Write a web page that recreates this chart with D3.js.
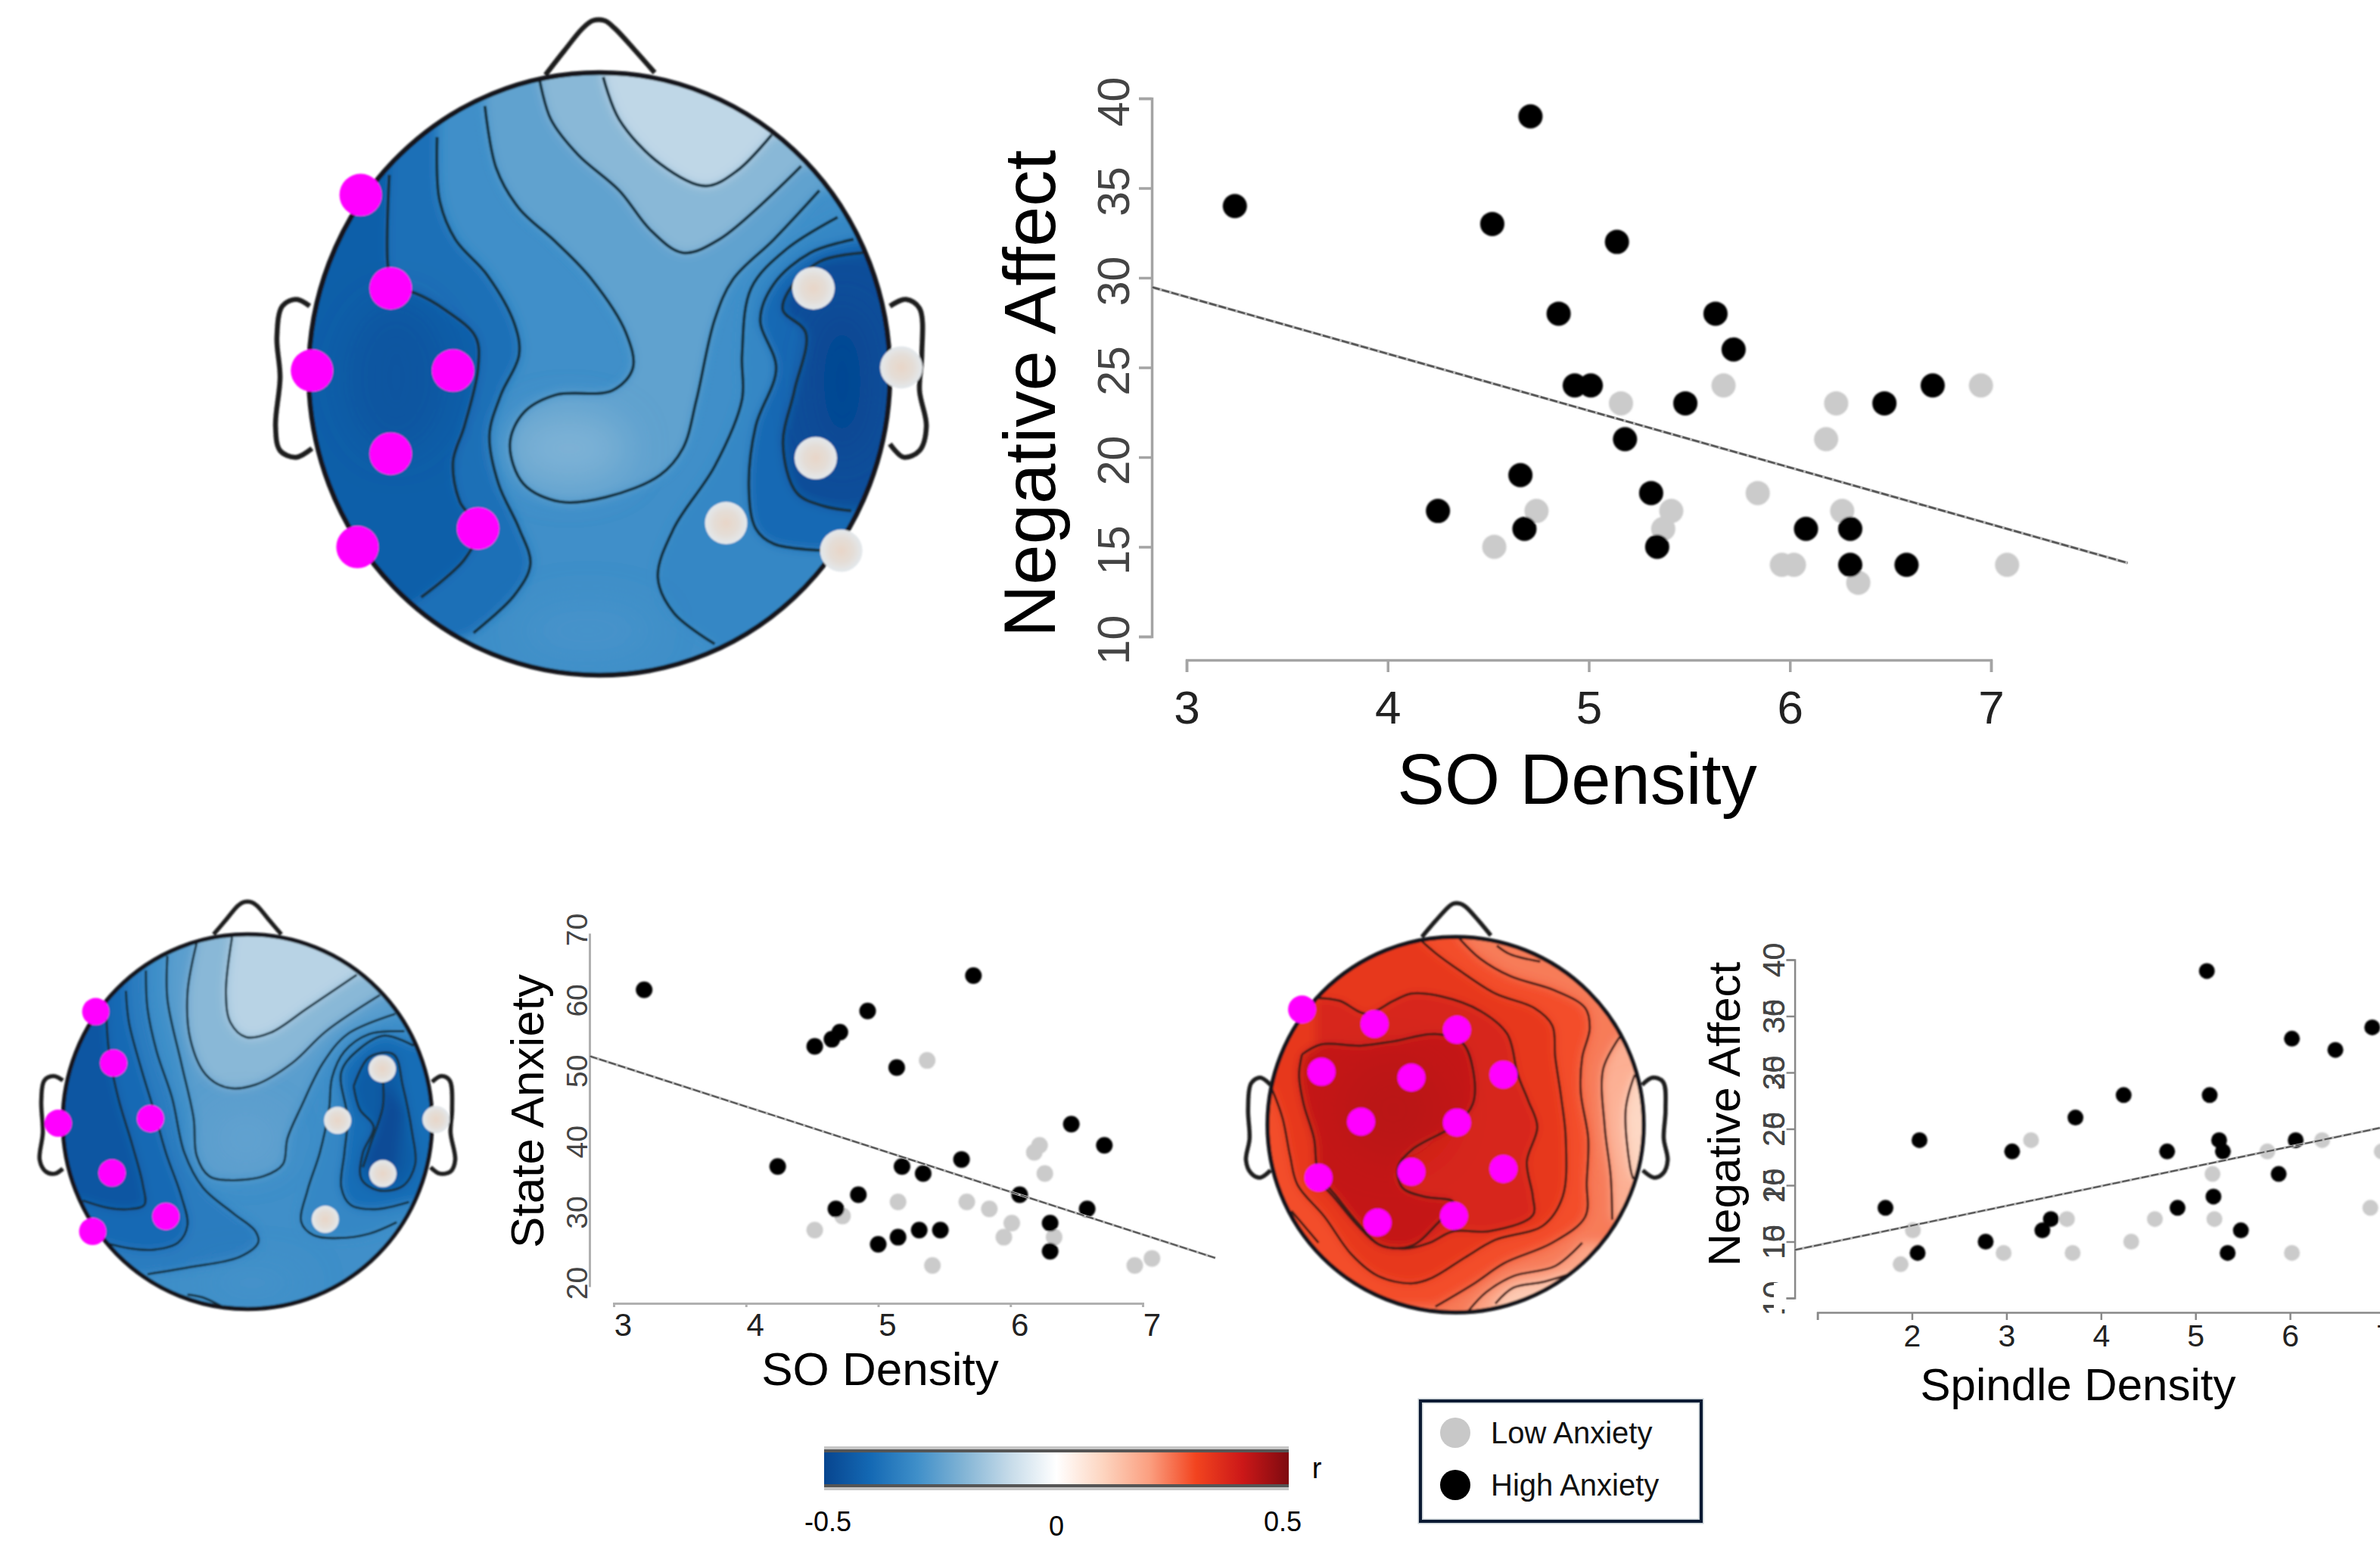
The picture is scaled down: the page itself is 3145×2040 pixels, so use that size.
<!DOCTYPE html>
<html>
<head>
<meta charset="utf-8">
<script src="https://cdn.jsdelivr.net/npm/d3@7"></script>
<style>
  html, body { margin: 0; padding: 0; background: #fff; }
  svg { display: block; }
  text { font-family: "Liberation Sans", Arial, sans-serif; }
</style>
</head>
<body>
<svg id="fig" width="3145" height="2040"></svg>
<script>
// ---- scatter data, [x, y] ----
var soNegHigh = [[3.24,34],[4.71,39],[4.52,33],[5.14,32],[4.85,28],[5.63,28],[5.72,26],[4.93,24],[5.01,24],
  [5.48,23],[5.18,21],[6.47,23],[6.71,24],[4.66,19],[5.31,18],[4.25,17],[4.68,16],[5.34,15],[6.08,16],
  [6.30,16],[6.30,14],[6.58,14]];
var soNegLow = [[5.67,24],[5.16,23],[6.23,23],[6.95,24],[6.18,21],[5.84,18],[4.74,17],[5.41,17],[6.26,17],
  [5.37,16],[4.53,15],[5.96,14],[6.02,14],[7.08,14],[6.34,13]];
var soNegFit = [[2.83,29.47],[7.68,14.1]];

var soStateHigh = [[3.23,62],[5.72,64],[4.92,59],[4.71,56],[4.65,55],[4.52,54],[5.14,51],[6.46,43],[6.71,40],
  [5.63,38],[4.24,37],[5.18,37],[5.34,36],[4.85,33],[6.07,33],[4.68,31],[6.58,31],[6.30,29],[5.31,28],
  [5.47,28],[5.15,27],[5.00,26],[6.30,25]];
var soStateLow = [[5.37,52],[6.22,40],[6.18,39],[6.26,36],[5.15,32],[5.67,32],[5.84,31],[4.73,30],[6.01,29],
  [4.52,28],[5.95,27],[6.33,27],[5.41,23],[6.94,23],[7.07,24]];
var soStateFit = [[2.82,52.6],[7.55,24.06]];

var spNegHigh = [[5.12,39],[6.02,33],[6.48,32],[6.87,34],[4.24,28],[5.15,28],[3.73,26],[2.08,24],[3.06,23],
  [4.70,23],[5.25,24],[5.29,23],[6.06,24],[5.88,21],[5.19,19],[1.72,18],[4.81,18],[3.47,17],[3.38,16],
  [5.48,16],[2.78,15],[2.06,14],[5.34,14]];
var spNegLow = [[3.26,24],[6.34,24],[5.76,23],[5.18,21],[6.97,23],[6.85,18],[3.64,17],[4.57,17],[5.20,17],
  [2.01,16],[4.32,15],[2.97,14],[3.70,14],[6.02,14],[1.88,13]];
var spNegFit = [[0.76,14.26],[6.95,25.08]];

// tick labels
var soTicks = [3, 4, 5, 6, 7];
var spTicks = [1, 2, 3, 4, 5, 6, 7];
var negTicks = [10, 15, 20, 25, 30, 35, 40];
var stateTicks = [20, 30, 40, 50, 60, 70];
// the spindle panel has a second set of labels printed over the first
var spOverprint = {40: "40", 35: "30", 30: "25", 25: "20", 20: "15", 15: "10", 10: "10"};

// ---- colour bar ----
var rStops = [-0.5, -0.4, -0.3, -0.2, -0.1, 0, 0.1, 0.2, 0.3, 0.4, 0.5];
var rColors = ["#07458f", "#1469b4", "#3f8fc9", "#82b4d5", "#c6dbe9", "#ffffff", "#fdd5c0", "#fb9f80", "#f2441f", "#cc1818", "#7e0a10"];
var rColor = d3.scaleLinear().domain(rStops).range(rColors);

// ---- topomap A: contours in the units they were read in ----
var a_c1 = [[325,395],[322,600],[335,650],[380,660],[450,700],[515,760],[520,830],[490,960],[465,1040],[480,1130],[520,1190],[490,1260],[395,1345]];
var a_c2 = [[430,310],[435,450],[470,540],[540,620],[600,730],[610,800],[570,890],[545,980],[565,1090],[610,1190],[635,1270],[600,1340],[510,1425]];
var a_c3 = [[535,240],[560,380],[610,470],[690,545],[770,630],[845,750],[860,830],[815,880],[690,890],[620,930],[590,1000],[620,1090],[700,1130],[800,1120],[920,1070],[970,1010],[1000,900],[1040,720],[1080,630],[1170,540],[1270,430]];
var a_c4 = [[655,180],[680,270],[740,350],[830,430],[900,520],[970,570],[1050,540],[1230,375]];
var a_c5 = [[795,175],[830,270],[920,370],[1020,420],[1090,385],[1165,305]];
var a_c6 = [[1310,490],[1200,560],[1120,650],[1100,800],[1100,900],[1040,1050],[950,1190],[915,1300],[950,1380],[1040,1450]];
var a_c7 = [[1345,540],[1250,570],[1170,640],[1140,720],[1175,830],[1130,960],[1115,1100],[1130,1190],[1170,1225],[1290,1240]];
var a_c8 = [[1365,570],[1270,590],[1200,660],[1190,700],[1240,750],[1215,880],[1190,1000],[1220,1110],[1280,1140],[1340,1150]];
var a_mag = [[262,440],[328,650],[155,835],[465,835],[328,1022],[520,1190],[255,1232]];
var a_gray = [[1257,650],[1450,828],[1262,1032],[1065,1178],[1318,1240]];
var a_nose = [[668,170],[710,115],[750,65],[772,48],[798,48],[820,65],[865,115],[908,165]];
var a_earL = [[150,690],[120,675],[90,690],[78,760],[85,850],[75,960],[85,1015],[120,1030],[155,1010]];
var a_earR = [[1425,690],[1460,675],[1490,695],[1495,800],[1490,880],[1505,960],[1490,1015],[1455,1030],[1425,1000]];

// ---- topomap B ----
var b_l1 = [[345,440],[355,600],[385,760],[430,920],[465,1060],[470,1130],[420,1145],[350,1140],[270,1115]];
var b_l2 = [[410,390],[420,500],[460,660],[500,800],[540,950],[590,1100],[610,1200],[580,1260],[500,1285],[420,1280],[340,1260]];
var b_l3 = [[475,320],[480,450],[510,600],[560,760],[600,950],[660,1070],[760,1160],[830,1220],[840,1260],[780,1310],[620,1345],[480,1370]];
var b_l4 = [[545,270],[545,420],[590,640],[630,830],[640,960],[680,1030],[750,1045],[860,1030],[920,990],[935,900],[980,790],[1050,640],[1130,540],[1285,470]];
var b_l5 = [[640,225],[610,400],[620,560],[670,680],[740,725],[830,715],[950,640],[1060,530],[1235,405]];
var b_l6 = [[755,205],[735,400],[750,500],[800,550],[880,535],[1000,450],[1160,335]];
var b_r1 = [[1315,530],[1200,540],[1120,600],[1080,690],[1070,800],[1040,950],[1000,1080],[980,1190],[1020,1235],[1100,1245],[1200,1230],[1290,1190]];
var b_r2 = [[1345,580],[1250,545],[1170,590],[1110,670],[1130,830],[1120,950],[1110,1070],[1140,1130],[1220,1145],[1330,1120]];
var b_r3 = [[1150,720],[1200,620],[1280,610],[1310,720],[1340,880],[1350,990],[1310,1065],[1230,1080],[1175,1040],[1180,950],[1215,860],[1170,800],[1150,720]];
var b_r4 = [[1245,700],[1245,790],[1205,920],[1180,1000]];
var b_tail = [[610,1440],[660,1450],[720,1480]];
var b_mag = [[312,462],[370,640],[190,848],[490,832],[365,1020],[540,1170],[302,1222]];
var b_gray = [[1243,660],[1418,835],[1245,1022],[1098,838],[1058,1180]];
var b_nose = [[695,195],[735,145],[775,95],[795,83],[815,83],[835,95],[875,145],[915,195]];
var b_earL = [[205,700],[175,685],[145,700],[135,770],[140,880],[130,975],[150,1015],[180,1022],[205,1005]];
var b_earR = [[1405,705],[1435,685],[1462,700],[1470,800],[1465,880],[1480,975],[1465,1015],[1430,1022],[1400,1000]];

// ---- topomap C ----
var c_c1 = [[255,610],[320,575],[450,580],[560,565],[700,540],[790,570],[825,660],[825,780],[770,850],[620,940],[575,1000],[590,1070],[660,1100],[760,1120],[700,1200],[620,1270],[520,1270],[440,1190],[370,1100],[310,1020],[295,900],[260,780],[245,680],[255,610]];
var c_c2 = [[300,415],[380,425],[470,470],[560,425],[620,400],[720,410],[850,460],[940,540],[975,680],[1010,770],[1040,860],[1005,980],[1025,1100],[1025,1165],[880,1220],[760,1220],[680,1260],[600,1280],[510,1265],[440,1200],[350,1090],[300,1040]];
var c_c3 = [[155,730],[190,830],[215,960],[240,1060],[330,1170],[420,1300],[510,1375],[620,1400],[690,1380],[800,1310],[900,1250],[1060,1200],[1125,1100],[1135,900],[1120,760],[1100,620],[1090,510],[1030,450],[900,400],[780,320],[700,260],[650,215]];
var c_c4 = [[780,210],[850,280],[950,340],[1100,390],[1200,450],[1215,520],[1190,620],[1185,740],[1210,900],[1205,1050],[1200,1170],[1090,1260],[930,1330],[830,1400],[700,1480]];
var c_c5 = [[905,235],[950,265],[1050,290]];
var c_c6 = [[1315,550],[1260,660],[1265,860],[1285,1030],[1290,1180]];
var c_c7 = [[1365,680],[1335,800],[1350,1000],[1360,1040]];
var c_c8 = [[810,1495],[870,1430],[960,1375],[1100,1340],[1190,1260]];
var c_c9 = [[900,1470],[960,1415],[1060,1395],[1140,1370]];
var c_c10 = [[220,1150],[310,1260]];
var c_mag = [[255,455],[497,505],[772,525],[320,670],[620,690],[927,680],[452,842],[772,845],[310,1035],[620,1015],[927,1005],[507,1190],[762,1167]];
var c_nose = [[655,205],[700,150],[745,100],[760,90],[782,90],[800,100],[845,150],[885,200]];
var c_earL = [[150,715],[115,690],[85,710],[75,800],[80,900],[68,975],[85,1020],[115,1035],[150,1010]];
var c_earR = [[1390,715],[1425,690],[1460,705],[1468,800],[1462,900],[1475,975],[1460,1020],[1430,1035],[1392,1010]];

var svg = d3.select("#fig");
var defs = svg.append("defs");

defs.append("filter").attr("id", "bandBlur").attr("x", "-10%").attr("y", "-10%").attr("width", "120%").attr("height", "120%")
  .append("feGaussianBlur").attr("stdDeviation", 7);
defs.append("filter").attr("id", "shadeBlur").attr("x", "-50%").attr("y", "-50%").attr("width", "200%").attr("height", "200%")
  .append("feGaussianBlur").attr("stdDeviation", 26);
defs.append("filter").attr("id", "soft").attr("x", "-20%").attr("y", "-20%").attr("width", "140%").attr("height", "140%")
  .append("feGaussianBlur").attr("stdDeviation", 1.2);

var grayDot = defs.append("radialGradient").attr("id", "grayDot");
grayDot.append("stop").attr("offset", "0%").attr("stop-color", "#e8d6c8");
grayDot.append("stop").attr("offset", "55%").attr("stop-color", "#e4ddd6");
grayDot.append("stop").attr("offset", "100%").attr("stop-color", "#e3e8ec");

var lineGen = d3.line().curve(d3.curveCatmullRom.alpha(0.5));

// one head: circle, filled bands, contour lines, electrodes
function drawHead(id, h) {
  var x = d3.scaleLinear().domain(h.domX).range([h.cx - h.rx, h.cx + h.rx]);
  var y = d3.scaleLinear().domain(h.domY).range([h.cy - h.ry, h.cy + h.ry]);
  var gen = lineGen.x(function(d) { return x(d[0]); }).y(function(d) { return y(d[1]); });
  var g = svg.append("g").attr("id", id).attr("filter", "url(#soft)");

  defs.append("clipPath").attr("id", id + "-clip")
    .append("ellipse").attr("cx", h.cx).attr("cy", h.cy).attr("rx", h.rx).attr("ry", h.ry);

  var body = g.append("g").attr("clip-path", "url(#" + id + "-clip)");
  body.append("ellipse").attr("cx", h.cx).attr("cy", h.cy).attr("rx", h.rx).attr("ry", h.ry)
    .attr("fill", rColor(h.base));

  var bands = body.append("g").attr("filter", "url(#bandBlur)");
  h.bands.forEach(function(b) {
    // contour followed by its closing points outside the head
    var d = gen(b.line);
    var rest = b.close.map(function(p) { return "L" + x(p[0]) + "," + y(p[1]); }).join("");
    bands.append("path").attr("d", d + rest + "Z").attr("fill", rColor(b.r));
  });

  // broad lighter and darker patches inside the bands
  body.append("g").attr("filter", "url(#shadeBlur)")
    .selectAll("ellipse").data(h.shades).enter().append("ellipse")
    .attr("cx", function(d) { return x(d.at[0]); })
    .attr("cy", function(d) { return y(d.at[1]); })
    .attr("rx", function(d) { return x(d.at[0] + d.size[0]) - x(d.at[0]); })
    .attr("ry", function(d) { return y(d.at[1] + d.size[1]) - y(d.at[1]); })
    .attr("fill", function(d) { return rColor(d.r); })
    .attr("opacity", function(d) { return d.op; });

  body.selectAll("path.iso").data(h.lines).enter().append("path")
    .attr("class", "iso")
    .attr("d", gen)
    .attr("fill", "none")
    .attr("stroke", h.lineColor)
    .attr("stroke-width", h.lineW);

  g.append("ellipse").attr("cx", h.cx).attr("cy", h.cy).attr("rx", h.rx).attr("ry", h.ry)
    .attr("fill", "none").attr("stroke", "#14191d").attr("stroke-width", h.lineW + 2.5);

  g.selectAll("path.out").data(h.outline).enter().append("path")
    .attr("class", "out")
    .attr("d", gen)
    .attr("fill", "none")
    .attr("stroke", "#1c1c1c")
    .attr("stroke-width", h.lineW + 2.5);

  g.selectAll("circle.gray").data(h.gray).enter().append("circle")
    .attr("class", "gray")
    .attr("cx", function(d) { return x(d[0]); })
    .attr("cy", function(d) { return y(d[1]); })
    .attr("r", h.dot)
    .attr("fill", "url(#grayDot)");

  g.selectAll("circle.mag").data(h.mag).enter().append("circle")
    .attr("class", "mag")
    .attr("cx", function(d) { return x(d[0]); })
    .attr("cy", function(d) { return y(d[1]); })
    .attr("r", h.dot)
    .attr("fill", "#ff00ff");
}

function styleRotated(sel, p) {
  sel.attr("transform", "rotate(-90)")
    .attr("text-anchor", "middle")
    .attr("x", p.yLabelShift).attr("y", -p.yLabelOff).attr("dy", 0)
    .attr("font-size", p.yTickFont).attr("fill", "#444");
}

// one scatter panel
function drawScatter(id, p) {
  var x = d3.scaleLinear().domain(p.xDom).range(p.xRange);
  var y = d3.scaleLinear().domain(p.yDom).range(p.yRange);
  var g = svg.append("g").attr("id", id);

  var xAxis = d3.axisBottom(x).tickValues(p.xTicks).tickSize(p.xTick).tickSizeOuter(p.xTick)
    .tickFormat(function(d) { return p.xNoLabel && p.xNoLabel.indexOf(d) >= 0 ? "" : d; });
  var gx = g.append("g").attr("transform", "translate(0," + p.xAt + ")").call(xAxis);
  gx.selectAll("path,line").attr("stroke", p.axisColor).attr("stroke-width", p.axisW);
  gx.selectAll("text").attr("x", p.xLabelShift).attr("y", p.xLabelY - p.xAt).attr("dy", 0)
    .attr("font-size", p.xTickFont).attr("fill", "#222");

  var yAxis = d3.axisLeft(y).tickValues(p.yTicks).tickSize(p.yTick).tickSizeOuter(p.yTick);
  var gy = g.append("g").attr("transform", "translate(" + p.yAt + ",0)").call(yAxis);
  gy.selectAll("path,line").attr("stroke", p.axisColor).attr("stroke-width", p.axisW);
  styleRotated(gy.selectAll("text"), p);

  if (p.overprint) {
    var over = d3.axisLeft(y).tickValues(p.yTicks).tickSize(0)
      .tickFormat(function(d) { return p.overprint[d]; });
    var go = g.append("g").attr("transform", "translate(" + p.yAt + ",0)").call(over);
    go.select("path").remove();
    go.selectAll("line").remove();
    styleRotated(go.selectAll("text"), p);
  }
  if (p.mask) {
    // bottom tick label is half painted out in the original
    g.append("rect").attr("x", p.mask[0]).attr("y", p.mask[1]).attr("width", p.mask[2]).attr("height", p.mask[3]).attr("fill", "#fff");
  }

  var dots = g.append("g").attr("filter", "url(#soft)");
  dots.selectAll("circle.low").data(p.low).enter().append("circle")
    .attr("class", "low")
    .attr("cx", function(d) { return x(d[0]); })
    .attr("cy", function(d) { return y(d[1]); })
    .attr("r", p.dot)
    .attr("fill", "#cbcbcb");
  dots.selectAll("circle.high").data(p.high).enter().append("circle")
    .attr("class", "high")
    .attr("cx", function(d) { return x(d[0]); })
    .attr("cy", function(d) { return y(d[1]); })
    .attr("r", p.dot)
    .attr("fill", "#000");

  var fitLine = d3.line().x(function(d) { return x(d[0]); }).y(function(d) { return y(d[1]); });
  g.append("path").datum(p.fit).attr("d", fitLine)
    .attr("fill", "none").attr("stroke", "#bbb").attr("stroke-width", p.fitW + 1);
  g.append("path").datum(p.fit).attr("d", fitLine)
    .attr("fill", "none").attr("stroke", "#555").attr("stroke-width", p.fitW - 0.5)
    .attr("stroke-dasharray", "10 3");

  g.append("text").attr("x", p.xTitle[0]).attr("y", p.xTitle[1])
    .attr("text-anchor", "middle").attr("font-size", p.titleFont).attr("fill", "#000")
    .text(p.xLabel);
  g.append("text")
    .attr("transform", "translate(" + p.yTitle[0] + "," + p.yTitle[1] + ") rotate(-90)")
    .attr("text-anchor", "middle").attr("font-size", p.yTitleFont).attr("fill", "#000")
    .text(p.yLabel);
}

drawHead("headA", {
  domX: [148, 1425], domY: [165, 1520], cx: 792, cy: 494, rx: 384, ry: 398,
  base: -0.3, lineColor: "#12303f", lineW: 4, dot: 28,
  bands: [
    {line: a_c2, close: [[0,1600],[0,0],[430,0]], r: -0.385},
    {line: a_c1, close: [[0,1600],[0,0],[325,0]], r: -0.43},
    {line: a_c3, close: [[1600,430],[1600,0],[535,0]], r: -0.25},
    {line: a_c4, close: [[1600,375],[1600,0],[655,0]], r: -0.19},
    {line: a_c5, close: [[1600,305],[1600,0],[795,0]], r: -0.11},
    {line: a_c6, close: [[1040,1700],[1600,1700],[1600,490]], r: -0.32},
    {line: a_c7, close: [[1600,1240],[1600,540]], r: -0.4},
    {line: a_c8, close: [[1600,1150],[1600,570]], r: -0.47}
  ],
  shades: [
    {at: [720,1010], size: [130,80], r: -0.17, op: 0.55},
    {at: [1320,860], size: [60,170], r: -0.5, op: 0.7},
    {at: [340,850], size: [110,170], r: -0.48, op: 0.45},
    {at: [760,1420], size: [150,60], r: -0.27, op: 0.4}
  ],
  lines: [a_c1, a_c2, a_c3, a_c4, a_c5, a_c6, a_c7, a_c8],
  outline: [a_nose, a_earL, a_earR], mag: a_mag, gray: a_gray
});

drawHead("headB", {
  domX: [205, 1405], domY: [195, 1490], cx: 327, cy: 1482, rx: 244, ry: 247.5,
  base: -0.3, lineColor: "#12303f", lineW: 3, dot: 18,
  bands: [
    {line: b_l3, close: [[0,1370],[0,0],[475,0]], r: -0.35},
    {line: b_l2, close: [[0,1260],[0,0],[410,0]], r: -0.4},
    {line: b_l1, close: [[0,1115],[0,0],[345,0]], r: -0.45},
    {line: b_l4, close: [[1600,470],[1600,0],[545,0]], r: -0.26},
    {line: b_l5, close: [[1600,405],[1600,0],[640,0]], r: -0.19},
    {line: b_l6, close: [[1600,335],[1600,0],[755,0]], r: -0.12},
    {line: b_r1, close: [[1600,1190],[1600,530]], r: -0.32},
    {line: b_r2, close: [[1600,1120],[1600,580]], r: -0.39},
    {line: b_r3, close: [], r: -0.44},
    {line: b_r4, close: [[1290,1010],[1310,800]], r: -0.48}
  ],
  shades: [
    {at: [800,900], size: [110,90], r: -0.22, op: 0.35},
    {at: [820,1400], size: [180,50], r: -0.27, op: 0.4}
  ],
  lines: [b_l1, b_l2, b_l3, b_l4, b_l5, b_l6, b_r1, b_r2, b_r3, b_r4, b_tail],
  outline: [b_nose, b_earL, b_earR], mag: b_mag, gray: b_gray
});

drawHead("headC", {
  domX: [140, 1395], domY: [205, 1500], cx: 1923.5, cy: 1486, rx: 248.5, ry: 248,
  base: 0.24, lineColor: "#3c1a16", lineW: 3, dot: 18.5,
  bands: [
    {line: c_c4, close: [[0,1480],[0,0],[780,0]], r: 0.29},
    {line: c_c3, close: [[650,0],[0,0],[0,730]], r: 0.33},
    {line: c_c2, close: [], r: 0.37},
    {line: c_c1, close: [], r: 0.41},
    {line: c_c6, close: [[1600,1180],[1600,550]], r: 0.17},
    {line: c_c7, close: [[1600,1040],[1600,680]], r: 0.1},
    {line: c_c8, close: [[1600,1260],[1600,1600],[810,1600]], r: 0.19},
    {line: c_c9, close: [[1600,1370],[1600,1600],[900,1600]], r: 0.12}
  ],
  shades: [
    {at: [560,800], size: [170,170], r: 0.44, op: 0.4},
    {at: [1370,860], size: [30,120], r: 0.05, op: 0.5}
  ],
  lines: [c_c1, c_c2, c_c3, c_c4, c_c5, c_c6, c_c7, c_c8, c_c9, c_c10],
  outline: [c_nose, c_earL, c_earR], mag: c_mag, gray: []
});

drawScatter("plotTop", {
  xDom: [3, 7], xRange: [1568, 2631], yDom: [10, 40], yRange: [841, 130],
  xTicks: soTicks, yTicks: negTicks, xAt: 872, yAt: 1522, xTick: 16, yTick: 17, axisW: 3.5, axisColor: "#a4a4a4",
  xLabelY: 956, xLabelShift: 0, yLabelOff: 30, yLabelShift: -4, xTickFont: 62, yTickFont: 59, dot: 16, fitW: 3,
  low: soNegLow, high: soNegHigh, fit: soNegFit,
  xLabel: "SO Density", yLabel: "Negative Affect",
  xTitle: [2084, 1062], yTitle: [1394, 520], titleFont: 94, yTitleFont: 96
});

drawScatter("plotState", {
  xDom: [3, 7], xRange: [811, 1510], yDom: [20, 70], yRange: [1700, 1233],
  xTicks: soTicks, yTicks: stateTicks, xAt: 1722, yAt: 779, xTick: 5, yTick: 0, axisW: 3, axisColor: "#b0b0b0",
  xLabelY: 1765, xLabelShift: 12, yLabelOff: 3, yLabelShift: 5, xTickFont: 42, yTickFont: 39, dot: 11, fitW: 2.5,
  low: soStateLow, high: soStateHigh, fit: soStateFit,
  xLabel: "SO Density", yLabel: "State Anxiety",
  xTitle: [1163, 1830], yTitle: [718, 1468], titleFont: 62, yTitleFont: 62
});

drawScatter("plotSpindle", {
  xDom: [1, 7], xRange: [2401.6, 3151], yDom: [10, 40], yRange: [1715, 1268],
  xTicks: spTicks, yTicks: negTicks, xAt: 1734, yAt: 2371.6, xTick: 10, yTick: 11, axisW: 2.5, axisColor: "#888",
  xLabelY: 1779, xLabelShift: 0, yLabelOff: 14, yLabelShift: 0, xTickFont: 41, yTickFont: 41, dot: 10.5, fitW: 2.5,
  low: spNegLow, high: spNegHigh, fit: spNegFit, xNoLabel: [1], overprint: spOverprint, mask: [2344, 1695, 15, 35],
  xLabel: "Spindle Density", yLabel: "Negative Affect",
  xTitle: [2746, 1850], yTitle: [2299, 1472], titleFont: 60, yTitleFont: 60
});

// colour bar
var barX = d3.scaleLinear().domain([-0.5, 0.5]).range([1089, 1703]);
var barG = svg.append("g").attr("id", "colorbar");
var grad = defs.append("linearGradient").attr("id", "rGrad");
rStops.forEach(function(r, i) {
  grad.append("stop").attr("offset", ((r + 0.5) * 100) + "%").attr("stop-color", rColors[i]);
});
barG.append("rect").attr("x", barX(-0.5)).attr("y", 1911).attr("width", barX(0.5) - barX(-0.5)).attr("height", 58).attr("fill", "#c6c6c6");
barG.append("rect").attr("x", barX(-0.5)).attr("y", 1915).attr("width", barX(0.5) - barX(-0.5)).attr("height", 50).attr("fill", "#555");
barG.append("rect").attr("x", barX(-0.5)).attr("y", 1919).attr("width", barX(0.5) - barX(-0.5)).attr("height", 42).attr("fill", "url(#rGrad)");
barG.append("text").attr("x", barX(-0.5) + 5).attr("y", 2023).attr("text-anchor", "middle").attr("font-size", 36).text("-0.5");
barG.append("text").attr("x", barX(0)).attr("y", 2029).attr("text-anchor", "middle").attr("font-size", 36).text("0");
barG.append("text").attr("x", barX(0.5) - 8).attr("y", 2023).attr("text-anchor", "middle").attr("font-size", 36).text("0.5");
barG.append("text").attr("x", 1740).attr("y", 1953).attr("text-anchor", "middle").attr("font-size", 38).text("r");

// legend
var legendKeys = ["Low Anxiety", "High Anxiety"];
var legendColors = ["#c8c8c8", "#000"];
var legend = svg.append("g").attr("id", "legend");
legend.append("rect").attr("x", 1877).attr("y", 1851).attr("width", 371).attr("height", 159)
  .attr("fill", "#fff").attr("stroke", "#c8d0d4").attr("stroke-width", 7);
legend.append("rect").attr("x", 1877).attr("y", 1851).attr("width", 371).attr("height", 159)
  .attr("fill", "none").attr("stroke", "#0b1a33").attr("stroke-width", 4);
var legendY = d3.scalePoint().domain(legendKeys).range([1893, 1962]);
legend.selectAll("circle").data(legendKeys).enter().append("circle")
  .attr("cx", 1923).attr("cy", function(d) { return legendY(d); }).attr("r", 20)
  .attr("fill", function(d, i) { return legendColors[i]; });
legend.selectAll("text").data(legendKeys).enter().append("text")
  .attr("x", 1970).attr("y", function(d) { return legendY(d) + 14; })
  .attr("font-size", 40).attr("fill", "#111").text(function(d) { return d; });
</script>
</body>
</html>
